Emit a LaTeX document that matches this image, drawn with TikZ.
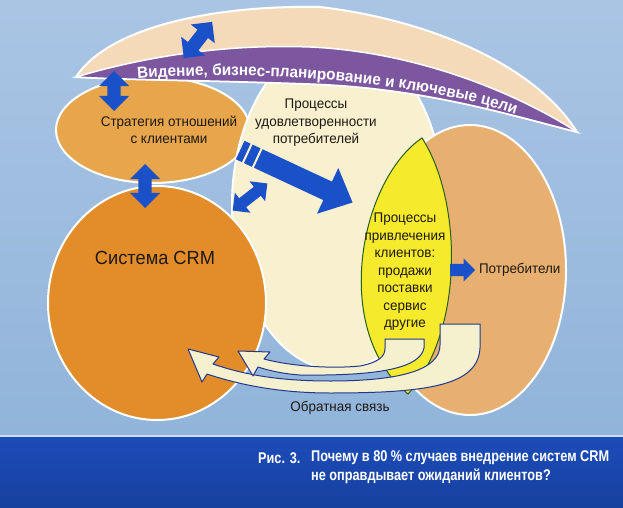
\documentclass[tikz,border=0pt]{standalone}
\usepackage{fontspec}
\setmainfont{Liberation Sans}[FakeStretch=0.96]
\newfontfamily\capfamily{Liberation Sans}[FakeStretch=0.82]
\usetikzlibrary{shapes.geometric,shapes.arrows,decorations.text,calc,positioning}

\definecolor{skytop}{RGB}{170,197,228}
\definecolor{skybot}{RGB}{145,180,218}
\definecolor{bandblue}{RGB}{28,76,186}
\definecolor{peach}{RGB}{245,218,186}
\definecolor{visionpurple}{RGB}{125,86,160}
\definecolor{stratorange}{RGB}{231,166,76}
\definecolor{crmorange}{RGB}{226,140,42}
\definecolor{clientorange}{RGB}{232,176,112}
\definecolor{cream}{RGB}{248,240,206}
\definecolor{lemon}{RGB}{245,234,44}
\definecolor{leaf}{RGB}{40,95,25}
\definecolor{arrowblue}{RGB}{26,80,200}
\definecolor{inkblue}{RGB}{35,55,140}
\definecolor{feedcream}{RGB}{245,240,205}
\definecolor{inktext}{RGB}{30,25,20}

\begin{document}
\begin{tikzpicture}[
        x=1pt, y=-1pt,
        blob/.style={ellipse, draw=white, line width=2pt, inner sep=0pt},
        txt/.style={align=center, text=inktext, font=\fontsize{14}{17.5}\selectfont},
        capfont/.style={text=white, font=\capfamily\fontsize{15.5}{19.5}\bfseries\selectfont, inner sep=0pt},
        dblarrow/.style={double arrow, fill=arrowblue, inner xsep=0pt, inner ysep=6.5pt, double arrow head extend=8.5pt},
        onearrow/.style={single arrow, fill=arrowblue, inner xsep=0pt},
        feedback/.style={fill=feedcream, draw=inkblue, line width=1pt, line join=round},
    ]
    \useasboundingbox (0,0) rectangle (623,508);
    \fill[top color=skytop, bottom color=skybot] (0,0) rectangle (623,436);
    \fill[top color=bandblue, bottom color=bandblue!85!black] (0,436) rectangle (623,508);
    \draw[skytop!60!white, line width=1.2pt] (0,436) -- (623,436);

    \node[blob, fill=stratorange, minimum width=194pt, minimum height=106pt] (strat) at (153,130) {};
    \node[blob, fill=cream, minimum width=212pt, minimum height=330pt] (sat) at (338,205) {};

    % vision lens
    \path[fill=peach, draw=white, line width=2pt] (76,77) .. controls (110,25) and (220,5) .. (320,7)
        .. controls (430,20) and (535,65) .. (577,132)
        .. controls (500,112) and (420,88) .. (310,84)
        .. controls (200,80) and (130,80) .. (76,77) -- cycle;
    \path[fill=visionpurple, draw=white, line width=1.5pt] (76,77) .. controls (150,55) and (230,44) .. (310,47)
        .. controls (420,52) and (520,95) .. (577,132)
        .. controls (500,112) and (420,88) .. (310,84)
        .. controls (200,80) and (130,80) .. (76,77) -- cycle;
    \path[decorate, decoration={text along path, text align=center,
        text={|\fontsize{16}{16}\bfseries\selectfont\color{white}|Видение, бизнес-планирование и ключевые цели}}]
        (136,79) .. controls (250,69) and (420,81) .. (517,115);

    \node[blob, fill=crmorange, minimum width=218pt, minimum height=234pt] (crm) at (157,303) {};
    \node[blob, fill=clientorange, minimum width=192pt, minimum height=290pt] (clients) at (470,270) {};

    \path[fill=lemon, draw=leaf, line width=1pt] (422,138) .. controls (360,180) and (330,330) .. (408,394)
        .. controls (465,330) and (462,200) .. (422,138) -- cycle;

    % feedback
    \path[feedback] (440,324) -- (480,324) -- (480,348) .. controls (478,385) and (430,393) .. (330,393)
        .. controls (280,393) and (240,385) .. (207,374) -- (202,382) -- (188,349) -- (219,357) -- (213,364)
        .. controls (245,375) and (280,381) .. (330,381) .. controls (400,381) and (440,370) .. (440,345) -- cycle;
    \path[feedback] (385,339) -- (424,339) -- (424,348) .. controls (420,368) and (380,376) .. (300,375)
        .. controls (285,374) and (270,371) .. (258,367) -- (253,376) -- (238,351) -- (270,352) -- (264,359)
        .. controls (290,366) and (330,369) .. (360,366) .. controls (380,362) and (385,356) .. (385,348) -- cycle;

    \node[dblarrow, minimum height=46pt, rotate=52] (visarrow) at (198,40) {};
    \node[dblarrow, minimum height=40pt, rotate=90] (stratarrow) at (114,91) {};
    \node[dblarrow, minimum height=44pt, rotate=90] (crmarrow) at (145,186) {};
    \node[dblarrow, minimum height=44pt, inner ysep=5.5pt, double arrow head extend=7pt, rotate=38] (satarrow) at (250,197) {};

    \node[onearrow, inner ysep=10pt, single arrow head extend=15pt, single arrow tip angle=85,
        minimum height=124pt, rotate=-25, anchor=tail] (satflow) at (240,150) {};
    \coordinate (cut1) at ($(satflow.tail)!8pt!(satflow.tip)$);
    \coordinate (cut2) at ($(satflow.tail)!19pt!(satflow.tip)$);
    \foreach \c in {cut1,cut2}
        \draw[cream, line width=2pt] ($(\c)!12pt!90:(satflow.tip)$) -- ($(\c)!12pt!-90:(satflow.tip)$);

    \node[onearrow, inner ysep=6pt, single arrow head extend=5.5pt, minimum height=25pt, anchor=tail] (outarrow) at (450,270) {};

    \node[txt] (strattext) at (169,130) {Стратегия отношений\\с клиентами};
    \node[txt] (sattext) at (316,123) {Процессы\\удовлетворенности\\потребителей};
    \node[txt, font=\fontsize{19}{23}\selectfont] (crmtext) at (155,258) {Система CRM};
    \node[txt] (acqtext) at (405,272) {Процессы\\привлечения\\клиентов:\\продажи\\поставки\\сервис\\другие};
    \node[txt, right=0pt of outarrow.tip] (clienttext) {Потребители};
    \node[txt] (feedtext) at (340,408) {Обратная связь};

    \node[capfont, anchor=west] (capnum) at (258,458) {Рис. 3.};
    \node[capfont, anchor=west, align=left] (captext) at (311,467) {Почему в 80 \% случаев внедрение систем CRM\\не оправдывает ожиданий клиентов?};
\end{tikzpicture}
\end{document}
